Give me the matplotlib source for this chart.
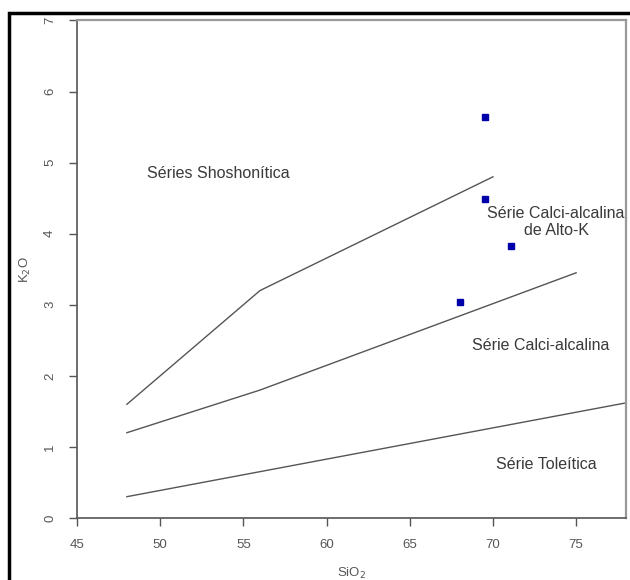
import numpy as np
import matplotlib.pyplot as plt
from matplotlib.patches import Rectangle

# limites das séries (SiO2 x K2O)
sho_x = [48, 56, 70]
sho_y = [1.6, 3.2, 4.8]
altok_x = [48, 56, 75]
altok_y = [1.2, 1.8, 3.45]
tol_x = [48, 78]
tol_y = [0.3, 1.62]

# amostras
sio2 = [69.5, 69.5, 71.1, 68.0]
k2o = [5.64, 4.49, 3.82, 3.04]

plt.rcParams['font.family'] = ['Liberation Sans', 'DejaVu Sans']

fig = plt.figure(figsize=(6.3, 5.8), dpi=100)
ax = fig.add_axes([0.1222, 0.1069, 0.8715, 0.8578])

cor = '#555555'
ax.plot(sho_x, sho_y, color=cor, lw=1.0)
ax.plot(altok_x, altok_y, color=cor, lw=1.0)
ax.plot(tol_x, tol_y, color=cor, lw=1.0, clip_on=True)
ax.plot(sio2, k2o, 's', color='#0000aa', ms=4.2, mec='#0000aa')

tc = '#3a3a3a'
ax.text(53.5, 4.85, 'Séries Shoshonítica', fontsize=11.5, color=tc, ha='center', va='center')
ax.text(73.8, 4.16, 'Série Calci-alcalina\nde Alto-K', fontsize=11.5, color=tc,
        ha='center', va='center', linespacing=1.15)
ax.text(72.9, 2.42, 'Série Calci-alcalina', fontsize=11.5, color=tc, ha='center', va='center')
ax.text(73.2, 0.75, 'Série Toleítica', fontsize=11.5, color=tc, ha='center', va='center')

ax.set_xlim(45, 78)
ax.set_ylim(0, 7)
ax.set_xticks([45, 50, 55, 60, 65, 70, 75])
ax.set_yticks(range(0, 8))
ax.tick_params(direction='out', length=6, width=1, colors=cor, labelsize=9.5,
               labelcolor='#555555', pad=9)
for lab in ax.get_yticklabels():
    lab.set_rotation(90)
    lab.set_va('center')

for s in ['left', 'bottom']:
    ax.spines[s].set_color(cor)
    ax.spines[s].set_linewidth(1.2)
for s in ['top', 'right']:
    ax.spines[s].set_color('#999999')
    ax.spines[s].set_linewidth(1.6)

ax.set_xlabel('SiO$_2$', fontsize=9.5, color='#555555', labelpad=11)
ax.set_ylabel('K$_2$O', fontsize=9.5, color='#555555', labelpad=8)

# moldura externa
fig.patches.append(Rectangle((0.0145, -0.02), 1.2, 0.9975, transform=fig.transFigure,
                             fill=False, ec='black', lw=2.5))

fig.savefig('out.png', dpi=100)
